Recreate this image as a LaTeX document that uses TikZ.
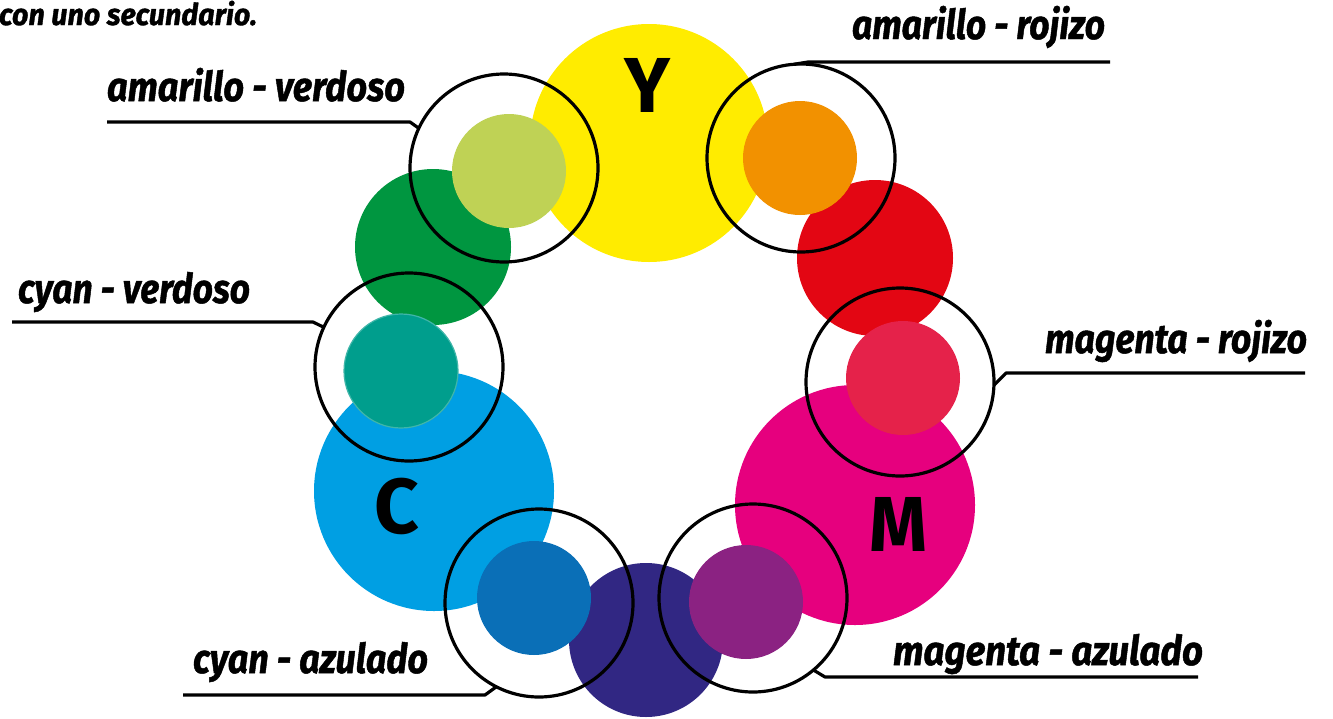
\documentclass[tikz,border=0pt]{standalone}
\usepackage{fontspec}
\setmainfont{Fira Sans}[BoldItalicFeatures={FakeBold=1.2}]
\usepackage{graphicx}
\definecolor{cY}{HTML}{FFEC00}
\definecolor{cC}{HTML}{009FE3}
\definecolor{cM}{HTML}{E6007E}
\definecolor{cG}{HTML}{009640}
\definecolor{cR}{HTML}{E30613}
\definecolor{cB}{HTML}{312783}
\definecolor{cYG}{HTML}{BFD255}
\definecolor{cO}{HTML}{F29100}
\definecolor{cMR}{HTML}{E5224A}
\definecolor{cT}{HTML}{009E8D}
\definecolor{cBL}{HTML}{0A6FB7}
\definecolor{cP}{HTML}{8B2282}
\newcommand{\lblw}[2]{\resizebox{#1}{\height}{#2}}
\tikzset{
  disc/.style={circle, inner sep=0pt, outer sep=0pt, minimum size=2*#1},
  ring/.style={circle, draw=black, line width=3.2pt, inner sep=0pt, outer sep=0pt, minimum size=188pt},
  uline/.style={draw=black, line width=3.2pt, line join=round},
  lbl/.style={inner sep=0pt, outer sep=0pt, anchor=base west, font=\fontsize{41}{44}\selectfont\bfseries\itshape},
  big/.style={inner sep=0pt, outer sep=0pt, anchor=base, font=\fontsize{78}{80}\selectfont\bfseries},
}
\begin{document}
\begin{tikzpicture}[x=1pt,y=-1pt]
\fill[white] (0,0) rectangle (1333,718);
\useasboundingbox (0,0) rectangle (1333,718);
% primary
\node[disc=119pt, fill=cY] (Y) at (649,143) {};
\node[disc=120pt, fill=cC] (C) at (434,491) {};
\node[disc=120pt, fill=cM] (M) at (855,505) {};
% secondary
\node[disc=78pt, fill=cG] (G) at (433,247) {};
\node[disc=78pt, fill=cR] (R) at (875,258) {};
\node[disc=77pt, fill=cB] (B) at (646,640) {};
% tertiary
\node[disc=57pt, fill=cYG] (YG) at (509,171) {};
\node[disc=57pt, fill=cO] (O) at (800,158) {};
\node[disc=57pt, fill=cMR] (MR) at (903,378) {};
\node[disc=57pt, fill=cT, draw=cT!75!white, line width=1.2pt] (T) at (401,371) {};
\node[disc=57pt, fill=cBL] (BL) at (534,598) {};
\node[disc=57pt, fill=cP] (P) at (746,602) {};
% rings
\node[ring] (rAV) at (504,168) {};
\node[ring] (rAR) at (801,158) {};
\node[ring] (rMR) at (900,382) {};
\node[ring] (rCV) at (409,367) {};
\node[ring] (rCA) at (539,603) {};
\node[ring] (rMA) at (753,598) {};
% letters
\node[big] (lY) at (647,112) {\resizebox{46pt}{\height}{Y}};
\node[big] (lC) at (397,533) {C};
\node[big] (lM) at (898,551) {\resizebox{58pt}{\height}{M}};
% labels
\node[lbl, font=\fontsize{30}{32}\selectfont\bfseries\itshape] (t0) at (-1,25) {\lblw{258pt}{con uno secundario.}};
\node[lbl] (tAV) at (107,101) {\lblw{298pt}{amarillo - verdoso}};
\node[lbl] (tAR) at (852,39) {\lblw{253pt}{amarillo - rojizo}};
\node[lbl] (tCV) at (18,303) {\lblw{232pt}{cyan - verdoso}};
\node[lbl] (tMR) at (1045,353) {\lblw{262pt}{magenta - rojizo}};
\node[lbl] (tCA) at (193,673) {\lblw{235pt}{cyan - azulado}};
\node[lbl] (tMA) at (893,665) {\lblw{310pt}{magenta - azulado}};
% underlines
\coordinate (eAV) at (107,122); \coordinate (kAV) at (410,122);
\coordinate (eAR) at (1110,62); \coordinate (kAR) at (808,62);
\coordinate (eCV) at (12,322);  \coordinate (kCV) at (313,322);
\coordinate (eMR) at (1305,373); \coordinate (kMR) at (1006,373);
\coordinate (eCA) at (183,695); \coordinate (kCA) at (485,695);
\coordinate (eMA) at (1198,677); \coordinate (kMA) at (825,677);
\draw[uline] (eAV) -- (kAV) -- (rAV.155);
\draw[uline] (eAR) -- (kAR) -- (rAR.94);
\draw[uline] (eCV) -- (kCV) -- (rCV.155);
\draw[uline] (eMR) -- (kMR) -- (rMR.-2);
\draw[uline] (eCA) -- (kCA) -- (rCA.243);
\draw[uline] (eMA) -- (kMA) -- (rMA.310);
\end{tikzpicture}
\end{document}
